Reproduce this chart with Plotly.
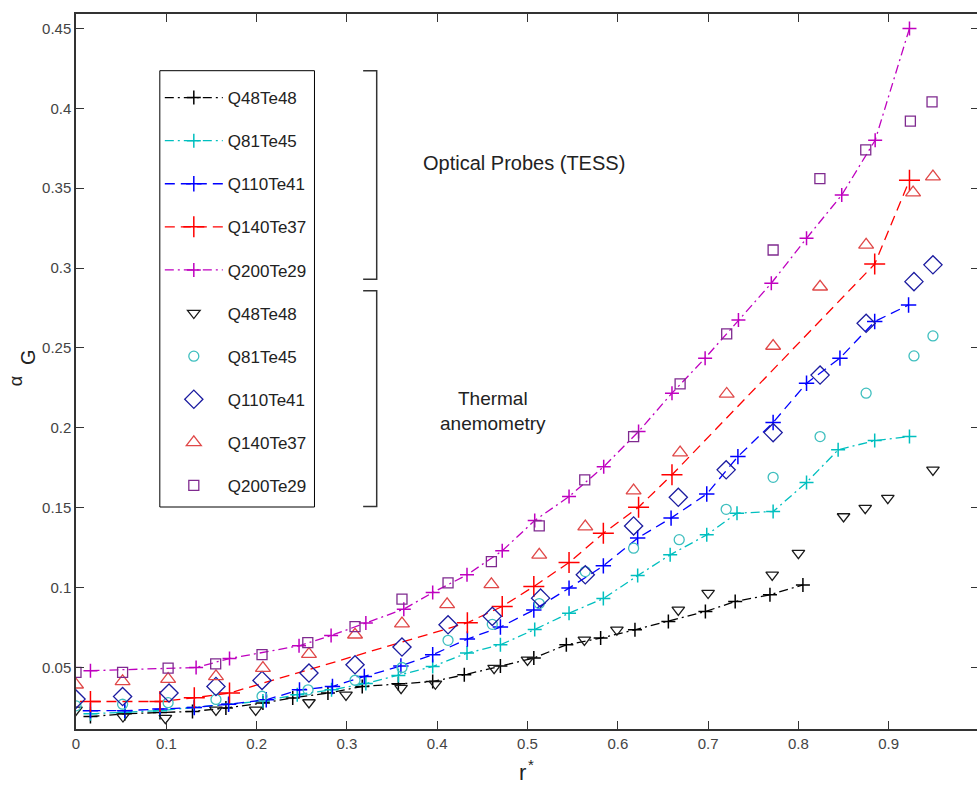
import plotly.graph_objects as go

# optical probes (TESS) - lines with + markers
op_x_48 = [0.016, 0.054, 0.093, 0.129, 0.166, 0.207, 0.240, 0.279, 0.317, 0.357, 0.395, 0.430,
           0.470, 0.507, 0.543, 0.581, 0.619, 0.656, 0.697, 0.730, 0.7685, 0.805]
op_y_48 = [0.0193, 0.021, 0.0218, 0.0225, 0.0246, 0.0278, 0.0309, 0.034, 0.0381, 0.0398, 0.0412, 0.0454,
           0.051, 0.0559, 0.0642, 0.0684, 0.0736, 0.0788, 0.085, 0.0913, 0.0955, 0.1017]

op_x_81 = [0.016, 0.054, 0.093, 0.131, 0.169, 0.207, 0.245, 0.283, 0.321, 0.357, 0.395, 0.433, 0.470,
           0.508, 0.546, 0.584, 0.622, 0.658, 0.6985, 0.732, 0.772, 0.809, 0.844, 0.8845, 0.923]
op_y_81 = [0.021, 0.022, 0.023, 0.025, 0.027, 0.029, 0.033, 0.036, 0.040, 0.045, 0.0506, 0.059, 0.0642,
           0.0738, 0.084, 0.0931, 0.1075, 0.1205, 0.133, 0.1466, 0.1476, 0.1658, 0.1862, 0.192, 0.1945]

op_x_110 = [0.016, 0.054, 0.093, 0.131, 0.169, 0.2107, 0.2475, 0.284, 0.3193, 0.3598, 0.395, 0.4334, 0.470,
            0.507, 0.546, 0.584, 0.622, 0.659, 0.6985, 0.733, 0.772, 0.809, 0.846, 0.8845, 0.922]
op_y_110 = [0.023, 0.023, 0.024, 0.025, 0.027, 0.0298, 0.036, 0.0381, 0.0444, 0.051, 0.058, 0.0678, 0.0753,
            0.086, 0.0997, 0.1136, 0.131, 0.1435, 0.1586, 0.182, 0.2033, 0.2279, 0.2436, 0.2665, 0.2769]

op_x_140 = [0.016, 0.093, 0.131, 0.170, 0.4334, 0.472, 0.507, 0.546, 0.584, 0.623, 0.66, 0.8845, 0.923]
op_y_140 = [0.0287, 0.0287, 0.031, 0.034, 0.078, 0.0882, 0.1007, 0.1157, 0.134, 0.1503, 0.1706, 0.3025, 0.355]

op_x_200 = [0.016, 0.133, 0.170, 0.247, 0.2825, 0.321, 0.363, 0.395, 0.433, 0.472, 0.508, 0.546,
            0.5844, 0.623, 0.660, 0.6967, 0.7336, 0.770, 0.809, 0.848, 0.885, 0.923]
op_y_200 = [0.048, 0.050, 0.0556, 0.0636, 0.070, 0.0778, 0.0865, 0.0969, 0.108, 0.123, 0.142, 0.157,
            0.1757, 0.1977, 0.2217, 0.2436, 0.2675, 0.2905, 0.3186, 0.3457, 0.380, 0.450]

# thermal anemometry - open markers only
ta_x_48 = [0, 0.052, 0.099, 0.155, 0.199, 0.258, 0.299, 0.36, 0.398, 0.463, 0.500, 0.563, 0.599,
           0.667, 0.700, 0.771, 0.800, 0.850, 0.874, 0.899, 0.949]
ta_y_48 = [0.0235, 0.0193, 0.0183, 0.0235, 0.0235, 0.0281, 0.0329, 0.0371, 0.0398, 0.0496, 0.0548, 0.0673, 0.0736,
           0.0861, 0.0966, 0.108, 0.1216, 0.1445, 0.1497, 0.156, 0.1737]

ta_x_81 = [0, 0.0516, 0.102, 0.155, 0.206, 0.257, 0.309, 0.361, 0.412, 0.461, 0.513, 0.564, 0.6175,
           0.668, 0.72, 0.772, 0.824, 0.875, 0.928, 0.949]
ta_y_81 = [0.026, 0.027, 0.028, 0.030, 0.032, 0.036, 0.042, 0.050, 0.067, 0.077, 0.090, 0.110, 0.1247,
           0.130, 0.149, 0.169, 0.1945, 0.2217, 0.245, 0.2575]

ta_x_110 = [0, 0.0516, 0.103, 0.155, 0.206, 0.258, 0.309, 0.361, 0.412, 0.461, 0.5145, 0.564, 0.6175,
            0.667, 0.72, 0.772, 0.824, 0.875, 0.928, 0.949]
ta_y_110 = [0.0302, 0.0318, 0.034, 0.0381, 0.0419, 0.0465, 0.0517, 0.0628, 0.0767, 0.082, 0.0934, 0.108, 0.1386,
            0.1565, 0.1737, 0.197, 0.233, 0.2654, 0.2915, 0.302]

ta_x_140 = [0, 0.0516, 0.102, 0.155, 0.207, 0.258, 0.309, 0.361, 0.411, 0.46, 0.513, 0.564, 0.6175,
            0.669, 0.7206, 0.772, 0.824, 0.875, 0.927, 0.949]
ta_y_140 = [0.0392, 0.0413, 0.0427, 0.0444, 0.0496, 0.0584, 0.0705, 0.0775, 0.0895, 0.102, 0.1205, 0.1382, 0.1607,
            0.1845, 0.2212, 0.2512, 0.2883, 0.3145, 0.3472, 0.3572]

ta_x_200 = [0, 0.0516, 0.102, 0.1547, 0.206, 0.2567, 0.309, 0.361, 0.412, 0.46, 0.513, 0.5634, 0.6175,
            0.669, 0.7206, 0.772, 0.8238, 0.8746, 0.924, 0.948]
ta_y_200 = [0.0469, 0.047, 0.0496, 0.0523, 0.058, 0.0656, 0.0756, 0.0928, 0.103, 0.1163, 0.1386, 0.1674, 0.1945,
            0.2275, 0.2588, 0.3113, 0.356, 0.3739, 0.392, 0.404]

x_ticks = [0, 0.1, 0.2, 0.3, 0.4, 0.5, 0.6, 0.7, 0.8, 0.9, 1.0]
x_labels = ["0", "0.1", "0.2", "0.3", "0.4", "0.5", "0.6", "0.7", "0.8", "0.9", "1"]
y_ticks = [0.05, 0.1, 0.15, 0.2, 0.25, 0.3, 0.35, 0.4, 0.45]
y_labels = ["0.05", "0.1", "0.15", "0.2", "0.25", "0.3", "0.35", "0.4", "0.45"]

FONT = "Liberation Sans, Arial, sans-serif"
DASHDOT = "9px,4px,2px,4px"
DASH = "10px,6px"

# plot area in page pixels (x = 1 sits just past the right edge of the window)
L, T, B, W = 76, 14, 729, 905
FIG_W, FIG_H = L + W, 787


def px(x):
    return (x - L) / W


def py(y):
    return (B - y) / (B - T)


optical = [
    ("Q48Te48", op_x_48, op_y_48, "#000000", DASHDOT, 10),
    ("Q81Te45", op_x_81, op_y_81, "#00BFBF", DASHDOT, 10),
    ("Q110Te41", op_x_110, op_y_110, "#0000FF", DASH, 11),
    ("Q140Te37", op_x_140, op_y_140, "#FF0000", DASH, 15),
    ("Q200Te29", op_x_200, op_y_200, "#BF00BF", DASHDOT, 10),
]
thermal = [
    ("Q48Te48", ta_x_48, ta_y_48, "#1a1a1a", "triangle-down-open", 11),
    ("Q81Te45", ta_x_81, ta_y_81, "#3FBFBF", "circle-open", 10),
    ("Q110Te41", ta_x_110, ta_y_110, "#1c1ca0", "diamond-open", 14),
    ("Q140Te37", ta_x_140, ta_y_140, "#E04848", "triangle-up-open", 13),
    ("Q200Te29", ta_x_200, ta_y_200, "#7F2A8F", "square-open", 10),
]

fig = go.Figure()
for i, (name, xs, ys, col, dash, ms) in enumerate(optical):
    fig.add_trace(go.Scatter(
        x=xs, y=ys, name=name, mode="lines+markers", legendgroup="o%d" % i,
        line=dict(color=col, width=1.3, dash=dash),
        marker=dict(symbol="cross-thin", size=ms, color=col, line=dict(color=col, width=1.5))))
for i, (name, xs, ys, col, sym, ms) in enumerate(thermal):
    fig.add_trace(go.Scatter(
        x=xs, y=ys, name=name, mode="markers", legendgroup="t%d" % i,
        marker=dict(symbol=sym, size=ms, color=col, line=dict(color=col, width=1.3))))

# legend frame and brackets
fig.add_shape(type="rect", xref="paper", yref="paper",
              x0=px(160), x1=px(315), y0=py(507), y1=py(70.7),
              line=dict(color="#000", width=1), fillcolor="white", layer="below")
for y_top, y_bot in [(0.4235, 0.293), (0.2858, 0.1507)]:
    fig.add_shape(type="path", xref="x", yref="y",
                  path="M 0.318 %f L 0.333 %f L 0.333 %f L 0.318 %f" % (y_top, y_top, y_bot, y_bot),
                  line=dict(color="#333", width=1.5))

fig.add_annotation(x=0.4966, y=0.3655, xref="x", yref="y", text="Optical Probes (TESS)",
                   showarrow=False, font=dict(size=20, color="#222", family=FONT))
fig.add_annotation(x=0.4618, y=0.2106, xref="x", yref="y", text="Thermal<br>anemometry",
                   showarrow=False, font=dict(size=19, color="#222", family=FONT))
# y title: alpha with subscript G
fig.add_annotation(x=px(16), y=py(381), xref="paper", yref="paper", xanchor="center", yanchor="middle",
                   text="α", textangle=-90, showarrow=False,
                   font=dict(size=18, color="#222", family=FONT))
fig.add_annotation(x=px(28), y=py(357), xref="paper", yref="paper", xanchor="center", yanchor="middle",
                   text="G", textangle=-90, showarrow=False,
                   font=dict(size=20, color="#222", family=FONT))
# x title: r with star
fig.add_annotation(x=px(523.5), y=py(787), xref="paper", yref="paper", xanchor="center", yanchor="bottom",
                   text="r", showarrow=False, font=dict(size=22, color="#222", family=FONT))
fig.add_annotation(x=px(532), y=py(764), xref="paper", yref="paper", xanchor="center", yanchor="middle",
                   text="*", showarrow=False, font=dict(size=15, color="#222", family=FONT))

axis_common = dict(showline=True, linecolor="#333", linewidth=1.5, mirror="ticks",
                   ticks="inside", ticklen=8, tickcolor="#333", showgrid=False, zeroline=False,
                   tickfont=dict(size=15, color="#444", family=FONT))
fig.update_xaxes(range=[0, 1.0], tickvals=x_ticks, ticktext=x_labels, **axis_common)
fig.update_yaxes(range=[0.0115, 0.459], tickvals=y_ticks, ticktext=y_labels, **axis_common)

fig.update_layout(
    width=FIG_W, height=FIG_H,
    margin=dict(l=L, r=0, t=T, b=FIG_H - B),
    paper_bgcolor="white", plot_bgcolor="white",
    font=dict(family=FONT, color="#222"),
    showlegend=True,
    legend=dict(x=px(160), y=py(80), xanchor="left", yanchor="top",
                bgcolor="rgba(0,0,0,0)", borderwidth=0, itemwidth=58,
                tracegroupgap=18, font=dict(size=17, color="#222", family=FONT)),
)

fig.write_html(
    "out.html",
    config={"displayModeBar": False},
    post_script="document.body.style.margin='0px';"
                "document.body.style.overflow='hidden';"
                "document.documentElement.style.overflow='hidden';",
)
